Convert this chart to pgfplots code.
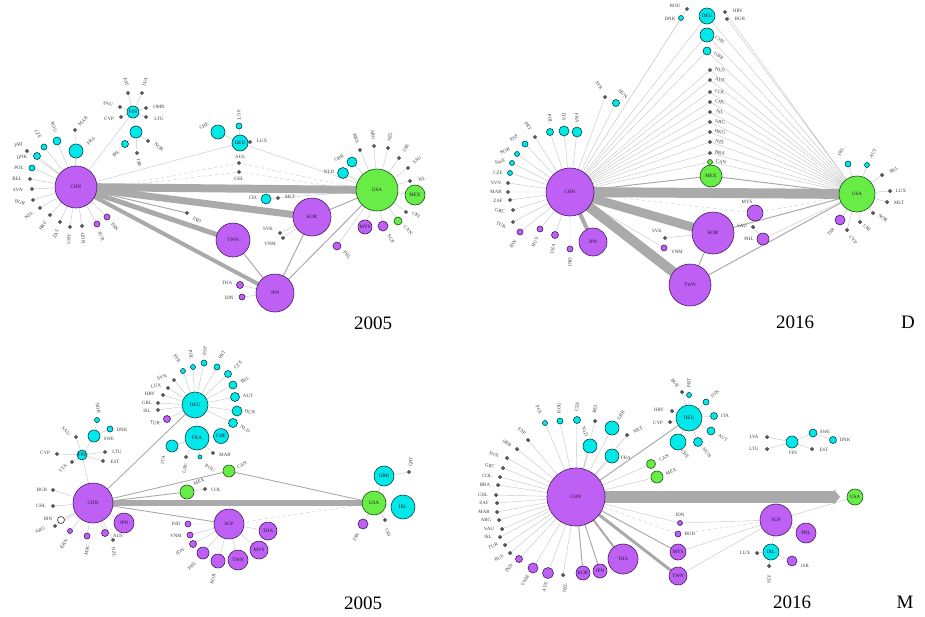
\documentclass[border=0pt]{standalone}
\usepackage{pgfplots}
\pgfplotsset{compat=1.18}
\usepackage{fontspec}
\setmainfont{Liberation Serif}
\usetikzlibrary{arrows.meta}

\definecolor{purp}{RGB}{190,96,244}
\definecolor{purd}{RGB}{70,25,95}
\definecolor{cyn}{RGB}{0,232,232}
\definecolor{cynd}{RGB}{0,70,75}
\definecolor{grn}{RGB}{104,236,70}
\definecolor{grnd}{RGB}{25,80,20}
\definecolor{edge}{RGB}{170,170,170}
\definecolor{spk}{RGB}{200,200,200}

\pgfplotsset{
  net/.style={x=1pt, y=1pt, xmin=0, xmax=925, ymin=0, ymax=616, y dir=reverse,
    hide axis, clip=false},
  bub/.style={scatter, only marks, mark=*,
    scatter/use mapped color={#1},
    visualization depends on={\thisrow{r} \as \rr},
    scatter/@pre marker code/.append style={/tikz/mark size=\rr}},
  bubP/.style={bub={draw=purd, fill=purp, line width=0.6pt}},
  bubC/.style={bub={draw=cynd, fill=cyn, line width=0.6pt}},
  bubG/.style={bub={draw=grnd, fill=grn, line width=0.6pt}},
  bubW/.style={bub={draw=black!80, fill=white, line width=0.6pt}},
  dots/.style={only marks, mark=*, mark size=1.7pt, mark options={draw=black!85, fill=black!60}},
  spoke/.style={no markers, spk, line width=0.45pt, unbounded coords=jump},
  mid/.style={no markers, edge, line width=1pt, unbounded coords=jump},
}
\tikzset{
  lab/.style={font=\fontsize{4.9}{5.5}\selectfont, text=black!75, inner sep=0pt},
  inl/.style={font=\fontsize{5}{5.5}\selectfont, text=purd!60!black, inner sep=0pt},
  yr/.style={font=\fontsize{19}{21}\selectfont, text=black, inner sep=0pt},
}
\newcommand{\lab}[4][0]{\node[lab,rotate=#1] at (axis cs:#2,#3) {#4};}
\newcommand{\inl}[3]{\node[inl] at (axis cs:#1,#2) {#3};}

\begin{document}
\begin{tikzpicture}
% ---------- edges and nodes ----------
\begin{axis}[net]

% 2005, D
\addplot[spoke] coordinates {
 (76,187)(75,130) (nan,nan) (76,187)(76,151) (nan,nan) (76,187)(57,141) (nan,nan)
 (76,187)(44,147) (nan,nan) (76,187)(37,156) (nan,nan) (76,187)(27,151) (nan,nan)
 (76,187)(32,168) (nan,nan) (76,187)(30,179) (nan,nan) (76,187)(32,189) (nan,nan)
 (76,187)(33,200) (nan,nan) (76,187)(40,208) (nan,nan) (76,187)(50,215) (nan,nan)
 (76,187)(60,222) (nan,nan) (76,187)(70,227) (nan,nan) (76,187)(82,226) (nan,nan)
 (76,187)(97,224) (nan,nan) (76,187)(107,217) (nan,nan) (76,187)(133,112) (nan,nan)
 (76,187)(240,143) (nan,nan)
 (133,112)(120,107) (nan,nan) (133,112)(121,117) (nan,nan) (133,112)(128,93) (nan,nan)
 (133,112)(142,93) (nan,nan) (133,112)(146,108) (nan,nan) (133,112)(146,117) (nan,nan)
 (133,112)(136,132) (nan,nan) (136,132)(125,144) (nan,nan) (136,132)(148,141) (nan,nan)
 (136,132)(137,153) (nan,nan)
 (240,143)(218,132) (nan,nan) (240,143)(239,126) (nan,nan) (240,143)(250,142) (nan,nan)
 (377,190)(352,162) (nan,nan) (377,190)(343,173) (nan,nan) (377,190)(415,195) (nan,nan)
 (377,190)(398,221) (nan,nan) (377,190)(365,227) (nan,nan) (377,190)(383,226) (nan,nan)
 (377,190)(337,246) (nan,nan) (377,190)(360,150) (nan,nan) (377,190)(374,146) (nan,nan)
 (377,190)(388,148) (nan,nan) (377,190)(399,158) (nan,nan) (377,190)(408,168) (nan,nan)
 (377,190)(410,181) (nan,nan) (377,190)(406,212) (nan,nan) (377,190)(266,199) (nan,nan)
 (377,190)(240,143) (nan,nan) (266,199)(278,198) (nan,nan)
 (312,217)(280,233) (nan,nan) (312,217)(283,238) (nan,nan)
 (275,293)(240,285) (nan,nan) (275,293)(242,297)
};
\addplot[spoke, dashed] coordinates {
 (96,190)(239,163)(357,188) (nan,nan) (96,189)(239,172)(357,190)
};
\addplot[mid] coordinates {
 (377,190)(312,217) (nan,nan) (377,190)(275,293) (nan,nan) (275,293)(312,217) (nan,nan)
 (275,293)(233,240) (nan,nan) (76,187)(187,213)
};
\addplot[no markers, edge, line width=8pt] coordinates {(76,187)(377,190)};
\addplot[no markers, edge, line width=7pt] coordinates {(76,187)(312,217)};
\addplot[no markers, edge, line width=5pt] coordinates {(76,187)(233,240)};
\addplot[no markers, edge, line width=4pt] coordinates {(76,187)(275,293)};

% 2016, D
\addplot[spoke] coordinates {
 (570,192)(513,222) (nan,nan) (570,192)(513,210) (nan,nan) (570,192)(510,200) (nan,nan)
 (570,192)(508,192) (nan,nan) (570,192)(508,183) (nan,nan) (570,192)(510,173) (nan,nan)
 (570,192)(512,163) (nan,nan) (570,192)(517,154) (nan,nan) (570,192)(525,144) (nan,nan)
 (570,192)(535,137) (nan,nan) (570,192)(550,132) (nan,nan) (570,192)(564,131) (nan,nan)
 (570,192)(577,132) (nan,nan) (570,192)(605,97) (nan,nan) (570,192)(616,103) (nan,nan)
 (570,192)(520,232) (nan,nan) (570,192)(540,229) (nan,nan) (570,192)(555,235) (nan,nan)
 (570,192)(570,249) (nan,nan) (570,192)(707,16) (nan,nan) (570,192)(707,35) (nan,nan)
 (570,192)(707,51) (nan,nan) (570,192)(681,18) (nan,nan) (570,192)(687,9) (nan,nan)
 (570,192)(710,70) (nan,nan) (570,192)(710,80) (nan,nan) (570,192)(710,92) (nan,nan)
 (570,192)(710,102) (nan,nan) (570,192)(710,112) (nan,nan) (570,192)(710,122) (nan,nan)
 (570,192)(710,132) (nan,nan) (570,192)(710,142) (nan,nan) (570,192)(710,153) (nan,nan)
 (570,192)(710,162) (nan,nan) (570,192)(664,248) (nan,nan)
 (857,194)(707,16) (nan,nan) (857,194)(707,35) (nan,nan) (857,194)(707,51) (nan,nan)
 (857,194)(725,12) (nan,nan) (857,194)(727,19) (nan,nan)
 (857,194)(710,70) (nan,nan) (857,194)(710,80) (nan,nan) (857,194)(710,92) (nan,nan)
 (857,194)(710,102) (nan,nan) (857,194)(710,112) (nan,nan) (857,194)(710,122) (nan,nan)
 (857,194)(710,132) (nan,nan) (857,194)(710,142) (nan,nan) (857,194)(710,153) (nan,nan)
 (857,194)(710,162) (nan,nan) (857,194)(848,164) (nan,nan) (857,194)(867,165) (nan,nan)
 (857,194)(882,175) (nan,nan) (857,194)(890,191) (nan,nan) (857,194)(887,202) (nan,nan)
 (857,194)(873,213) (nan,nan) (857,194)(860,222) (nan,nan) (857,194)(847,230) (nan,nan)
 (857,194)(840,220) (nan,nan) (857,194)(763,239) (nan,nan)
 (713,233)(665,238) (nan,nan) (763,239)(753,227)
};
\addplot[spoke, dashed] coordinates {
 (570,192)(755,213) (nan,nan) (857,194)(755,213)
};
\addplot[mid] coordinates {
 (690,285)(713,233) (nan,nan) (690,285)(857,194) (nan,nan) (713,233)(857,194) (nan,nan)
 (570,192)(711,176) (nan,nan) (711,176)(857,194)
};
\addplot[no markers, edge, line width=10pt] coordinates {(570,192)(857,194)};
\addplot[no markers, edge, line width=9pt] coordinates {(570,192)(713,233)};
\addplot[no markers, edge, line width=10pt] coordinates {(570,192)(690,285)};
\addplot[no markers, edge, line width=4pt] coordinates {(570,192)(593,242)};

% 2005, M
\addplot[spoke] coordinates {
 (93,503)(53,490) (nan,nan) (93,503)(53,506) (nan,nan) (93,503)(55,526) (nan,nan)
 (93,503)(61,520) (nan,nan) (93,503)(70,531) (nan,nan) (93,503)(87,536) (nan,nan)
 (93,503)(105,533) (nan,nan) (93,503)(113,540) (nan,nan) (93,503)(124,523) (nan,nan)
 (93,503)(82,455) (nan,nan)
 (82,455)(57,454) (nan,nan) (82,455)(72,462) (nan,nan) (82,455)(76,437) (nan,nan)
 (82,455)(105,452) (nan,nan) (82,455)(103,461) (nan,nan) (82,455)(94,436) (nan,nan)
 (94,436)(97,420) (nan,nan) (94,436)(110,429) (nan,nan)
 (195,405)(183,371) (nan,nan) (195,405)(193,367) (nan,nan) (195,405)(204,363) (nan,nan)
 (195,405)(217,367) (nan,nan) (195,405)(228,374) (nan,nan) (195,405)(233,385) (nan,nan)
 (195,405)(235,397) (nan,nan) (195,405)(237,411) (nan,nan) (195,405)(233,423) (nan,nan)
 (195,405)(174,380) (nan,nan) (195,405)(168,388) (nan,nan) (195,405)(163,395) (nan,nan)
 (195,405)(158,403) (nan,nan) (195,405)(158,410) (nan,nan) (195,405)(167,419) (nan,nan)
 (195,405)(197,438) (nan,nan)
 (197,438)(172,446) (nan,nan) (197,438)(221,436) (nan,nan) (197,438)(213,453) (nan,nan)
 (197,438)(200,457) (nan,nan) (197,438)(186,457) (nan,nan)
 (187,492)(205,489) (nan,nan)
 (374,503)(384,476) (nan,nan) (374,503)(403,507) (nan,nan) (374,503)(363,524) (nan,nan)
 (374,503)(385,520) (nan,nan) (384,476)(409,472) (nan,nan)
 (229,524)(268,531) (nan,nan) (229,524)(259,550) (nan,nan) (229,524)(238,560) (nan,nan)
 (229,524)(218,561) (nan,nan) (229,524)(203,553) (nan,nan) (229,524)(193,544) (nan,nan)
 (229,524)(190,535) (nan,nan) (229,524)(188,524)
};
\addplot[spoke, dashed] coordinates {(229,524)(374,503)};
\addplot[no markers, edge, line width=0.9pt, unbounded coords=jump] coordinates {
 (93,503)(229,524) (nan,nan) (93,503)(229,471) (nan,nan) (93,503)(187,492) (nan,nan)
 (93,503)(195,405) (nan,nan) (229,471)(374,503)
};
\addplot[no markers, edge, line width=6pt] coordinates {(93,503)(374,503)};

% 2016, M
\addplot[spoke] coordinates {
 (576,497)(563,575) (nan,nan) (576,497)(548,573) (nan,nan) (576,497)(533,568) (nan,nan)
 (576,497)(519,559) (nan,nan) (576,497)(510,553) (nan,nan) (576,497)(505,545) (nan,nan)
 (576,497)(500,537) (nan,nan) (576,497)(502,529) (nan,nan) (576,497)(499,520) (nan,nan)
 (576,497)(497,512) (nan,nan) (576,497)(497,503) (nan,nan) (576,497)(496,495) (nan,nan)
 (576,497)(498,485) (nan,nan) (576,497)(500,477) (nan,nan) (576,497)(503,468) (nan,nan)
 (576,497)(507,458) (nan,nan) (576,497)(517,449) (nan,nan) (576,497)(528,440) (nan,nan)
 (576,497)(545,423) (nan,nan) (576,497)(560,421) (nan,nan) (576,497)(577,420) (nan,nan)
 (576,497)(595,421) (nan,nan) (576,497)(590,446) (nan,nan) (576,497)(612,428) (nan,nan)
 (576,497)(612,456) (nan,nan) (576,497)(627,435) (nan,nan) (576,497)(651,464) (nan,nan)
 (576,497)(657,477) (nan,nan) (576,497)(680,523) (nan,nan)
 (776,520)(855,497) (nan,nan) (776,520)(680,523) (nan,nan) (776,520)(678,552) (nan,nan)
 (776,520)(678,576) (nan,nan) (776,520)(806,533) (nan,nan) (776,520)(771,552) (nan,nan)
 (771,552)(757,553) (nan,nan) (771,552)(769,566) (nan,nan) (771,552)(792,561) (nan,nan)
 (689,418)(678,442) (nan,nan) (689,418)(698,442) (nan,nan) (689,418)(711,431) (nan,nan)
 (689,418)(714,416) (nan,nan) (689,418)(706,402) (nan,nan) (689,418)(689,395) (nan,nan)
 (689,418)(682,392) (nan,nan) (689,418)(672,411) (nan,nan) (689,418)(670,422) (nan,nan)
 (792,442)(767,437) (nan,nan) (792,442)(767,449) (nan,nan) (792,442)(813,433) (nan,nan)
 (792,442)(812,449) (nan,nan) (813,433)(833,440)
};
\addplot[spoke, dashed] coordinates {
 (576,497)(678,534) (nan,nan) (776,520)(678,534)
};
\addplot[no markers, edge, line width=1pt, unbounded coords=jump] coordinates {
 (576,497)(689,418) (nan,nan) (576,497)(678,552) (nan,nan) (576,497)(583,573) (nan,nan)
 (576,497)(600,571)
};
\addplot[no markers, edge, line width=3pt] coordinates {(576,497)(678,576)};
\addplot[no markers, edge, line width=2pt] coordinates {(576,497)(623,559)};
\addplot[no markers, edge, line width=12pt, -{Triangle[length=6pt, width=15pt]}]
  coordinates {(576,497)(840,497)};

% nodes, sized by r
\addplot[bubP] table[row sep=\\] {
x y r \\
76 187 21 \\ 312 217 19 \\ 233 240 17 \\ 275 293 19 \\ 365 227 7 \\ 383 226 5 \\
337 246 4 \\ 97 224 3 \\ 107 217 3 \\ 240 285 3.5 \\ 242 297 3 \\
570 192 24 \\ 713 233 21 \\ 690 285 21 \\ 593 242 14 \\ 755 213 8 \\ 763 239 6 \\
840 220 5 \\ 664 248 3 \\ 570 249 3 \\ 555 235 3.5 \\ 540 229 3 \\ 520 232 3 \\
93 503 20 \\ 124 523 10 \\ 105 533 3.5 \\ 87 536 3 \\ 70 531 2.5 \\ 167 419 3.5 \\
229 524 15 \\ 268 531 9 \\ 259 550 9 \\ 238 560 10 \\ 218 561 7 \\ 203 553 6 \\
193 544 3.5 \\ 190 535 3 \\ 188 524 3 \\ 363 524 5 \\
576 497 29 \\ 623 559 15 \\ 600 571 7 \\ 583 573 7 \\ 548 573 5.5 \\ 533 568 5 \\
519 559 3.5 \\ 680 523 2.5 \\ 678 534 3 \\ 678 552 8 \\ 678 576 9 \\ 776 520 16 \\
806 533 10 \\ 792 561 5 \\
};
\addplot[bubC] table[row sep=\\] {
x y r \\
352 162 5 \\ 343 173 5.5 \\ 266 199 5 \\ 218 132 7 \\ 240 143 8 \\ 239 126 3 \\
76 151 7 \\ 57 141 4 \\ 44 147 3 \\ 37 156 3.5 \\ 32 168 3 \\ 133 112 6 \\
136 132 6 \\ 125 144 3.5 \\
707 16 8 \\ 707 35 7 \\ 707 51 4 \\ 681 18 2.5 \\ 577 132 5 \\ 564 131 5 \\
550 132 3.5 \\ 525 144 3 \\ 517 154 2.5 \\ 512 163 2.5 \\ 510 173 2.5 \\ 616 103 3.5 \\
848 164 3 \\ 867 165 2.5 \\
82 455 5 \\ 94 436 6 \\ 97 420 2.5 \\ 110 429 3 \\ 195 405 13 \\ 197 438 12 \\
221 436 7.5 \\ 172 446 6 \\ 183 371 2.5 \\ 193 367 2.5 \\ 204 363 3 \\ 217 367 3 \\
228 374 3.5 \\ 233 385 4 \\ 235 397 4.5 \\ 237 411 5 \\ 233 423 4.5 \\ 384 476 10 \\
403 507 12 \\ 200 457 2 \\
545 423 2.5 \\ 560 421 3 \\ 577 420 3.5 \\ 590 446 7 \\ 612 428 7 \\ 612 456 7 \\
689 418 13 \\ 678 442 8 \\ 698 442 4.5 \\ 711 431 4 \\ 714 416 3.5 \\ 706 402 3 \\
689 395 2.5 \\ 792 442 6 \\ 813 433 4 \\ 833 440 3.5 \\ 771 552 8 \\
};
\addplot[bubG] table[row sep=\\] {
x y r \\
377 190 21 \\ 415 195 10 \\ 398 221 4 \\
857 194 18 \\ 711 176 11 \\ 710 162 2.5 \\
374 503 12 \\ 229 471 6 \\ 187 492 7 \\
855 497 8 \\ 651 464 4.5 \\ 657 477 6 \\
};
\addplot[bubW] table[row sep=\\] {
x y r \\
61 520 3.5 \\
};
\addplot[dots] table[row sep=\\] {
x y \\
75 130 \\ 27 151 \\ 30 179 \\ 32 189 \\ 33 200 \\ 40 208 \\ 50 215 \\ 60 222 \\
70 227 \\ 82 226 \\ 250 142 \\ 239 163 \\ 239 172 \\ 278 198 \\ 187 213 \\ 280 233 \\
283 238 \\ 146 108 \\ 146 117 \\ 120 107 \\ 121 117 \\ 128 93 \\ 142 93 \\ 148 141 \\
137 153 \\ 360 150 \\ 374 146 \\ 388 148 \\ 399 158 \\ 408 168 \\ 410 181 \\ 406 212 \\
513 222 \\ 513 210 \\ 510 200 \\ 508 192 \\ 508 183 \\ 535 137 \\ 605 97 \\ 687 9 \\
725 12 \\ 727 19 \\ 710 70 \\ 710 80 \\ 710 92 \\ 710 102 \\ 710 112 \\ 710 122 \\
710 132 \\ 710 142 \\ 710 153 \\ 882 175 \\ 890 191 \\ 887 202 \\ 873 213 \\ 860 222 \\
847 230 \\ 753 227 \\ 665 238 \\
53 490 \\ 53 506 \\ 55 526 \\ 57 454 \\ 72 462 \\ 76 437 \\ 105 452 \\ 103 461 \\
113 540 \\ 174 380 \\ 168 388 \\ 163 395 \\ 158 403 \\ 158 410 \\ 213 453 \\ 186 457 \\
205 489 \\ 409 472 \\ 385 520 \\
563 575 \\ 510 553 \\ 505 545 \\ 500 537 \\ 502 529 \\ 499 520 \\ 497 512 \\ 497 503 \\
496 495 \\ 498 485 \\ 500 477 \\ 503 468 \\ 507 458 \\ 517 449 \\ 528 440 \\ 595 421 \\
627 435 \\ 682 392 \\ 672 411 \\ 670 422 \\ 767 437 \\ 767 449 \\ 812 449 \\ 757 553 \\
769 566 \\
};
\end{axis}

% ---------- country labels, set over the nodes ----------
\begin{axis}[net]
% 2005, D
\inl{76}{187}{CHN}\inl{377}{190}{USA}\inl{312}{217}{KOR}\inl{233}{240}{TWN}
\inl{275}{293}{JPN}\inl{415}{195}{MEX}\inl{365}{227}{MYS}\inl{240}{143}{DEU}
\inl{133}{112}{FIN}
\lab[45]{91}{141}{FRA}\lab[45]{83}{121}{MAR}\lab[-70]{54}{127}{ROU}
\lab[-55]{38}{134}{CZE}\lab[15]{19}{145}{PRT}\lab[5]{22}{157}{DNK}
\lab{19}{168}{POL}\lab{17}{179}{BEL}\lab[-5]{18}{190}{SVN}\lab[-15]{20}{202}{BGR}
\lab[35]{29}{215}{NZL}\lab[55]{43}{226}{HRV}\lab[70]{56}{234}{ZAF}\lab[85]{69}{239}{URY}
\lab[95]{83}{238}{BGD}\lab[-65]{101}{236}{TUR}\lab[-50]{115}{227}{PAK}
\lab[-15]{108}{104}{SAU}\lab{109}{119}{CYP}\lab[-75]{126}{82}{EST}\lab[75]{145}{82}{LVA}
\lab{159}{107}{OMN}\lab{159}{119}{LTU}\lab[45]{116}{154}{IRL}\lab[-40]{159}{147}{NOR}
\lab[-80]{139}{163}{ISR}
\lab[30]{204}{126}{CHE}\lab[-90]{239}{115}{AUT}\lab{262}{141}{LUX}\lab{240}{157}{AUS}
\lab{239}{179}{CHL}\lab[-30]{197}{220}{IND}\lab{253}{198}{ITA}\lab{290}{197}{MLT}
\lab{268}{229}{SVK}\lab{270}{244}{VNM}\lab{227}{283}{THA}\lab{229}{298}{IDN}
\lab[30]{339}{158}{GBR}\lab{329}{172}{NLD}\lab[-60]{391}{239}{SGP}\lab[-45]{408}{230}{CAN}
\lab[-50]{347}{255}{PHL}\lab[-70]{356}{139}{BRA}\lab[-80]{373}{135}{ARG}
\lab[80]{390}{137}{NZL}\lab[60]{406}{148}{ISR}\lab[40]{417}{160}{SAU}\lab[20]{422}{179}{ISL}
\lab[-30]{416}{215}{CRI}
\node[yr] at (axis cs:373,323) {2005};

% 2016, D
\inl{570}{192}{CHN}\inl{857}{194}{USA}\inl{713}{233}{KOR}\inl{690}{285}{TWN}
\inl{593}{242}{JPN}\inl{711}{176}{MEX}\inl{707}{16}{DEU}
\lab{747}{202}{MYS}\lab{749}{239}{PHL}\lab{742}{226}{SAU}\lab[45]{831}{232}{ISR}
\lab[-50]{853}{240}{CYP}\lab[-45]{867}{228}{CRI}\lab[-35]{883}{218}{NOR}
\lab{899}{203}{MLT}\lab{901}{191}{LUX}\lab[30]{894}{170}{BEL}\lab[60]{841}{152}{IRL}
\lab[60]{873}{153}{AUT}
\lab[-30]{720}{40}{CHE}\lab[-30]{719}{56}{GBR}
\lab[-10]{720}{70}{NLD}\lab[-10]{720}{80}{AUS}\lab[-10]{720}{92}{COL}\lab[-10]{720}{102}{CHL}
\lab[-10]{720}{112}{ISL}\lab[-10]{720}{122}{ARG}\lab[-10]{720}{132}{HKG}\lab[-10]{720}{142}{NZL}
\lab[-10]{720}{153}{BRA}\lab[-10]{721}{162}{CAN}
\lab{675}{6}{ROU}\lab{670}{19}{DNK}\lab{738}{11}{HRV}\lab{740}{19}{BGR}
\lab{498}{173}{CZE}\lab[15]{500}{162}{SWE}\lab[25]{505}{151}{NOR}\lab[35]{514}{138}{ESP}
\lab[-55]{528}{126}{PRT}\lab[-80]{550}{119}{POL}\lab[-85]{564}{117}{ITA}
\lab[-85]{577}{118}{FRA}\lab[-60]{599}{86}{SVK}\lab[-45]{623}{94}{HUN}
\lab{496}{183}{SVN}\lab{496}{192}{MAR}\lab{498}{201}{ZAF}\lab[-10]{500}{211}{GRC}
\lab[-25]{501}{225}{TUR}\lab[55]{513}{244}{IDN}\lab[65]{535}{242}{RUS}
\lab[80]{553}{249}{THA}\lab[90]{570}{262}{IND}
\lab{677}{252}{VNM}\lab{657}{231}{SVK}
\node[yr] at (axis cs:795,322) {2016};
\node[yr] at (axis cs:908,322) {D};

% 2005, M
\inl{93}{503}{CHN}\inl{124}{523}{JPN}\inl{82}{455}{FIN}\inl{195}{405}{DEU}
\inl{197}{438}{FRA}\inl{221}{436}{CHE}\inl{229}{524}{SGP}\inl{268}{531}{THA}
\inl{259}{550}{MYS}\inl{238}{560}{TWN}\inl{374}{503}{USA}\inl{384}{476}{GBR}
\inl{403}{507}{IRL}
\lab{118}{536}{AUS}\lab[-80]{114}{552}{NZL}\lab[80]{87}{550}{MAC}\lab[55]{64}{544}{BRN}
\lab{48}{519}{IRN}\lab[20]{40}{530}{ARG}\lab{41}{506}{CHL}\lab{42}{490}{BGR}
\lab{45}{453}{CYP}\lab[45]{63}{468}{LVA}\lab[-45]{66}{431}{SAU}\lab{117}{452}{LTU}
\lab{115}{462}{EST}\lab{109}{439}{SWE}\lab[-80]{98}{408}{NOR}\lab{122}{430}{DNK}
\lab[80]{163}{460}{ITA}\lab[-60]{177}{359}{SVK}\lab[-80]{191}{355}{POL}
\lab[85]{205}{351}{ESP}\lab[60]{222}{355}{PRT}\lab[45]{238}{365}{CZE}\lab[30]{245}{380}{BEL}
\lab{248}{396}{AUT}\lab[-15]{250}{412}{HUN}\lab[-30]{245}{429}{NLD}
\lab[20]{162}{377}{SVN}\lab[10]{156}{386}{LUX}\lab{150}{394}{HRV}\lab{147}{403}{GRL}
\lab{147}{411}{ISL}\lab[-10]{155}{423}{TUR}\lab{225}{455}{MAR}\lab[-30]{210}{468}{ROU}
\lab[80]{185}{468}{GRC}
\lab[30]{242}{465}{CAN}\lab[20]{199}{482}{MEX}\lab{216}{490}{COL}
\lab[75]{213}{579}{KOR}\lab[45]{192}{566}{PHL}\lab[30]{180}{552}{IDN}\lab{176}{536}{VNM}
\lab{176}{524}{IND}\lab[85]{411}{462}{QAT}\lab[60]{356}{537}{ISR}\lab[-70]{388}{533}{CRI}
\node[yr] at (axis cs:363,603) {2005};

% 2016, M
\inl{576}{497}{CHN}\inl{623}{559}{THA}\inl{600}{571}{JPN}\inl{583}{573}{KOR}
\inl{678}{552}{MYS}\inl{678}{576}{TWN}\inl{776}{520}{SGP}\inl{806}{533}{PHL}
\inl{771}{552}{IRL}\inl{689}{418}{DEU}\inl{855}{497}{USA}
\lab[-50]{685}{454}{CHE}\lab[-50]{707}{453}{HUN}\lab[-30]{723}{438}{AUT}
\lab{725}{416}{ITA}\lab[45]{715}{394}{SVK}\lab[90]{689}{383}{PRT}\lab[-50]{675}{383}{BGR}
\lab{659}{410}{HRV}\lab{658}{423}{CYP}
\lab{793}{453}{FIN}\lab{825}{432}{SWE}\lab{845}{440}{DNK}\lab{824}{450}{EST}
\lab{754}{437}{LVA}\lab{754}{449}{LTU}\lab{745}{553}{LUX}\lab[90]{769}{579}{SLV}
\lab{805}{566}{ISR}
\lab[30]{664}{458}{CAN}\lab[20]{671}{472}{MEX}\lab{680}{515}{IDN}\lab{690}{534}{BGD}
\lab[60]{621}{415}{GBR}\lab[-70]{585}{432}{NLD}\lab{626}{458}{FRA}\lab[30]{638}{430}{MLT}
\lab[80]{595}{409}{BEL}\lab[80]{577}{407}{CZE}\lab[90]{559}{408}{ROU}
\lab[-60]{539}{410}{POL}\lab[-40]{522}{431}{ESP}\lab[-30]{507}{443}{SRB}
\lab[-20]{494}{455}{SVN}\lab[-10]{490}{466}{GRC}\lab{487}{476}{COL}\lab{485}{485}{BRA}
\lab{483}{495}{CHL}\lab{484}{503}{ZAF}\lab{484}{512}{MAR}\lab{486}{520}{ARG}
\lab{489}{529}{SAU}\lab{488}{537}{ISL}\lab[20]{493}{546}{TUR}\lab[30]{499}{558}{RUS}
\lab[45]{509}{568}{IND}\lab[60]{525}{581}{VNM}\lab[75]{545}{587}{AUS}\lab[85]{565}{588}{NZL}
\node[yr] at (axis cs:792,602) {2016};
\node[yr] at (axis cs:905,602) {M};
\end{axis}
\pgfresetboundingbox
\useasboundingbox (current axis.south west) rectangle (current axis.north east);
\end{tikzpicture}
\end{document}
